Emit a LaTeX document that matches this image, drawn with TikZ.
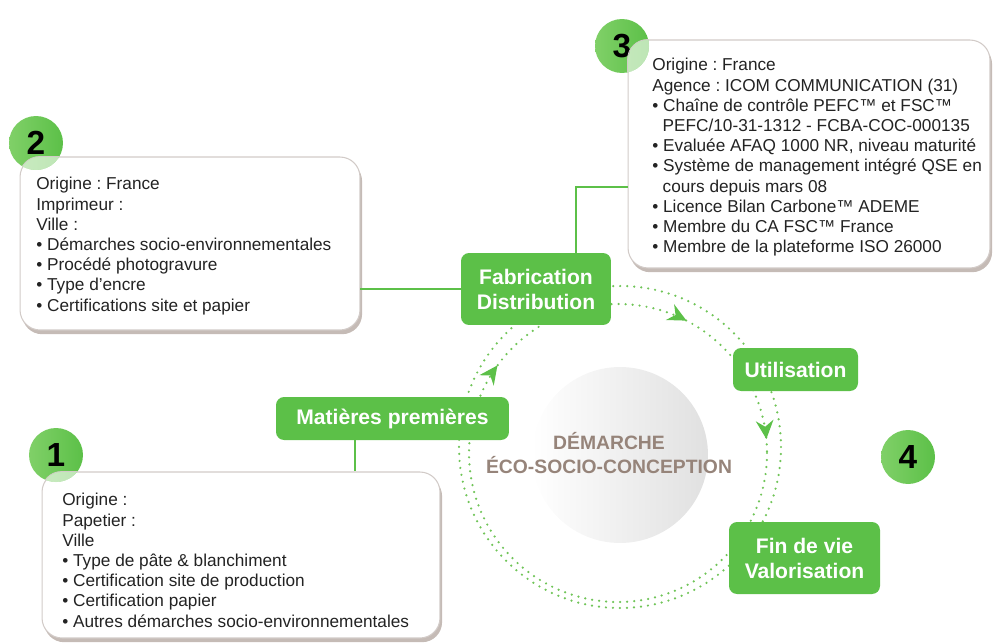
\documentclass[tikz,border=0pt]{standalone}
\usepackage{fontspec}
\setmainfont{Liberation Sans}
\usetikzlibrary{shadows,decorations.markings,arrows.meta}
\definecolor{leaf}{RGB}{92,192,72}
\definecolor{leaflight}{RGB}{128,208,104}
\definecolor{dotgreen}{RGB}{112,196,88}
\definecolor{taupe}{RGB}{150,132,122}
\definecolor{edge}{RGB}{210,203,200}
\definecolor{ink}{RGB}{35,35,35}
\frenchspacing

\begin{document}
\begin{tikzpicture}[x=0.02cm, y=-0.02cm,
    panel/.style={draw=edge, line width=0.6pt, fill=white, rounded corners=0.4cm,
      drop shadow={shadow xshift=1.2pt, shadow yshift=-2.4pt, fill=taupe, opacity=0.55}},
    notes/.style={anchor=north west, inner sep=0pt, align=left, text=ink,
      font=\fontsize{9.8}{11.5}\selectfont},
    stage/.style={fill=leaf, rounded corners=0.16cm, text=white, align=center,
      font=\fontsize{12}{14.2}\selectfont\bfseries},
    badge/.style={circle, minimum size=1.08cm, inner sep=0pt, left color=leaflight,
      right color=leaf, font=\fontsize{19}{19}\selectfont\bfseries},
    link/.style={draw=leaf, line width=1.1pt},
    ring/.style={dotgreen, line width=1.4pt, line cap=round, dash pattern=on 0pt off 4pt},
    tip/.style={leaf, solid}]
  \useasboundingbox (0,0) rectangle (993,642);

  \draw[ring] (620,447) circle [radius=161];
  \draw[ring, postaction={decorate}, decoration={markings,
      mark=at position 0.6 with {\arrow[tip]{Stealth[length=10.5pt, width=10pt, inset=3.5pt]}},
      mark=at position 0.826 with {\arrow[tip]{Stealth[length=10.5pt, width=10pt, inset=3.5pt]}},
      mark=at position 0.985 with {\arrow[tip]{Stealth[length=10.5pt, width=10pt, inset=3.5pt]}}}]
    (618,453) circle [radius=149];

  \node[circle, minimum size=3.52cm, inner sep=0pt, left color=white, right color=black!12] (hub) at (620,455) {};
  \node[text=taupe, align=center, font=\fontsize{11}{13.6}\selectfont\bfseries] (title) at (609,453) {DÉMARCHE\\ÉCO-SOCIO-CONCEPTION};

  \node[stage, minimum width=3cm, minimum height=1.44cm] (fabrication) at (536,289) {Fabrication\\Distribution};
  \node[stage, minimum width=2.5cm, minimum height=0.86cm] (utilisation) at (795.5,369.5) {Utilisation};
  \node[stage, minimum width=4.66cm, minimum height=0.86cm] (matieres) at (392.5,418.5) {Matières premières};
  \node[stage, minimum width=3.02cm, minimum height=1.44cm] (findevie) at (804.5,558) {Fin de vie\\Valorisation};

  \node[panel, minimum width=6.8cm, minimum height=3.46cm] (box2) at (190,243.5) {};
  \node[panel, minimum width=7.24cm, minimum height=4.56cm] (box3) at (809,154) {};
  \node[panel, minimum width=7.96cm, minimum height=3.32cm] (box1) at (241,555) {};

  \node[badge] (badge2) at (36,143) {2};
  \node[badge] (badge3) at (622,46) {3};
  \node[badge] (badge1) at (56,455) {1};
  \node[badge] (badge4) at (908,457) {4};
  \begin{scope}
    \clip (badge2.center) circle [radius=27];
    \draw[edge, fill=white, fill opacity=0.6, rounded corners=0.4cm] (box2.south west) rectangle (box2.north east);
  \end{scope}
  \begin{scope}
    \clip (badge3.center) circle [radius=27];
    \draw[edge, fill=white, fill opacity=0.6, rounded corners=0.4cm] (box3.south west) rectangle (box3.north east);
  \end{scope}
  \begin{scope}
    \clip (badge1.center) circle [radius=27];
    \draw[edge, fill=white, fill opacity=0.6, rounded corners=0.4cm] (box1.south west) rectangle (box1.north east);
  \end{scope}

  \node[notes] (notes2) at (36,177) {Origine : France\\
    Imprimeur :\\
    Ville :\\
    • Démarches socio-environnementales\\
    • Procédé photogravure\\
    • Type d’encre\\
    • Certifications site et papier};
  \node[notes] (notes3) at (652,58) {Origine : France\\
    Agence : ICOM COMMUNICATION (31)\\
    • Chaîne de contrôle PEFC™ et FSC™\\
    \hspace*{0.6em}PEFC/10-31-1312 - FCBA-COC-000135\\
    • Evaluée AFAQ 1000 NR, niveau maturité\\
    • Système de management intégré QSE en\\
    \hspace*{0.6em}cours depuis mars 08\\
    • Licence Bilan Carbone™ ADEME\\
    • Membre du CA FSC™ France\\
    • Membre de la plateforme ISO 26000};
  \node[notes] (notes1) at (62,493) {Origine :\\
    Papetier :\\
    Ville\\
    • Type de pâte \& blanchiment\\
    • Certification site de production\\
    • Certification papier\\
    • Autres démarches socio-environnementales};

  \draw[link] (fabrication.west) -- (fabrication.west -| box2.east);
  \coordinate (bend3) at (576,187);
  \draw[link] (fabrication.north -| bend3) -- (bend3) -- (bend3 -| box3.west);
  \coordinate (drop1) at (355,418);
  \draw[link] (matieres.south -| drop1) -- (drop1 |- box1.north);
\end{tikzpicture}
\end{document}
